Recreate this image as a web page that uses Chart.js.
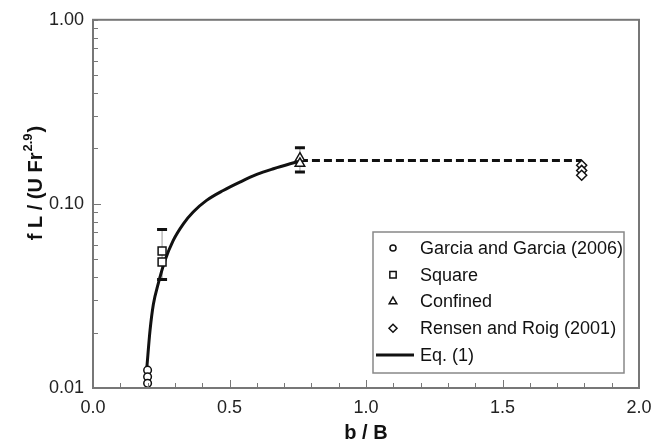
<!DOCTYPE html>
<html>
<head>
<meta charset="utf-8">
<script src="https://cdn.jsdelivr.net/npm/chart.js@4.4.1/dist/chart.umd.min.js"></script>
<style>
  body { margin: 0; background: #fff; }
  #wrap { width: 668px; height: 447px; }
</style>
</head>
<body>
<div id="wrap"><canvas id="chart"></canvas></div>
<script>
// measurements by series
const garciaX = [0.2, 0.2, 0.2];
const garciaY = [0.0125, 0.0115, 0.0106];
const squareX = [0.253, 0.253];
const squareY = [0.0555, 0.0484];
const confinedX = [0.758, 0.758];
const confinedY = [0.177, 0.166];
const rensenX = [1.79, 1.79, 1.79];
const rensenY = [0.162, 0.152, 0.143];

// Eq. (1)
const eqX = [0.197, 0.209, 0.221, 0.239, 0.264, 0.294, 0.331, 0.367, 0.416, 0.477, 0.538, 0.600, 0.661, 0.722, 0.758];
const eqY = [0.0128, 0.0206, 0.0284, 0.0369, 0.0494, 0.0634, 0.078, 0.0904, 0.1045, 0.1183, 0.1313, 0.1445, 0.1552, 0.1652, 0.1708];

// plateau beyond the confined case
const plateauX = [0.758, 1.79];
const plateauY = [0.172, 0.172];

// error bars
const errX = [0.253, 0.758];
const errLow = [0.0388, 0.149];
const errHigh = [0.0727, 0.202];

const yTicks = [0.01, 0.1, 1];
const FONT = "'Liberation Sans', Arial, sans-serif";

const pts = (xs, ys) => xs.map((x, i) => ({ x: x, y: ys[i] }));

const marker = {
  showLine: false,
  borderColor: '#111',
  backgroundColor: '#fff',
  borderWidth: 1.5,
  order: 0
};

const datasets = [
  Object.assign({ label: 'Garcia and Garcia (2006)', data: pts(garciaX, garciaY), pointStyle: 'circle', pointRadius: 3.8 }, marker),
  Object.assign({ label: 'Square', data: pts(squareX, squareY), pointStyle: 'rect', pointRadius: 5.6 }, marker),
  Object.assign({ label: 'Confined', data: pts(confinedX, confinedY), pointStyle: 'triangle', pointRadius: 5.5 }, marker),
  Object.assign({ label: 'Rensen and Roig (2001)', data: pts(rensenX, rensenY), pointStyle: 'rectRot', pointRadius: 5 }, marker),
  {
    label: 'Eq. (1)', data: pts(eqX, eqY), showLine: true, borderColor: '#111', borderWidth: 3,
    pointRadius: 0, cubicInterpolationMode: 'monotone', order: 2
  },
  {
    label: '', data: pts(plateauX, plateauY), showLine: true, borderColor: '#111', borderWidth: 3,
    borderDash: [8, 4], pointRadius: 0, order: 2
  }
];

const decor = {
  id: 'decor',
  beforeDatasetsDraw(chart) {
    const ctx = chart.ctx, xs = chart.scales.x, ys = chart.scales.y;
    ctx.save();
    for (let i = 0; i < errX.length; i++) {
      const px = xs.getPixelForValue(errX[i]);
      const top = ys.getPixelForValue(errHigh[i]);
      const bot = ys.getPixelForValue(errLow[i]);
      ctx.strokeStyle = '#999';
      ctx.lineWidth = 1;
      ctx.beginPath();
      ctx.moveTo(px, top);
      ctx.lineTo(px, bot);
      ctx.stroke();
      ctx.strokeStyle = '#111';
      ctx.lineWidth = 3;
      ctx.beginPath();
      ctx.moveTo(px - 5, top); ctx.lineTo(px + 5, top);
      ctx.moveTo(px - 5, bot); ctx.lineTo(px + 5, bot);
      ctx.stroke();
    }
    ctx.restore();
  },
  afterDraw(chart) {
    const ctx = chart.ctx, a = chart.chartArea, xs = chart.scales.x, ys = chart.scales.y;
    ctx.save();

    // frame and inward ticks
    ctx.strokeStyle = '#777';
    ctx.lineWidth = 2;
    ctx.strokeRect(a.left, a.top, a.right - a.left, a.bottom - a.top);
    ctx.lineWidth = 1;
    ctx.beginPath();
    for (let k = 1; k < 20; k++) {
      const px = Math.round(xs.getPixelForValue(k / 10)) + 0.5;
      const len = k % 5 === 0 ? 8 : 5;
      ctx.moveTo(px, a.bottom);
      ctx.lineTo(px, a.bottom - len);
    }
    [0.01, 0.1].forEach(d => {
      for (let k = 2; k <= 10; k++) {
        const py = Math.round(ys.getPixelForValue(k * d)) + 0.5;
        const len = k === 10 && d === 0.01 ? 8 : 5;
        ctx.moveTo(a.left, py);
        ctx.lineTo(a.left + len, py);
      }
    });
    ctx.stroke();

    // axis titles
    ctx.fillStyle = '#111';
    ctx.font = 'bold 20px ' + FONT;
    ctx.textAlign = 'center';
    ctx.textBaseline = 'alphabetic';
    ctx.fillText('b / B', (a.left + a.right) / 2, 439);

    ctx.save();
    ctx.translate(42, 184);
    ctx.rotate(-Math.PI / 2);
    ctx.textAlign = 'left';
    const main = 'f L / (U Fr', sup = '2.9', close = ')';
    ctx.font = 'bold 20px ' + FONT;
    const w1 = ctx.measureText(main).width, w3 = ctx.measureText(close).width;
    ctx.font = 'bold 13px ' + FONT;
    const w2 = ctx.measureText(sup).width;
    let x0 = -(w1 + w2 + w3) / 2;
    ctx.font = 'bold 20px ' + FONT;
    ctx.fillText(main, x0, 0);
    ctx.font = 'bold 13px ' + FONT;
    ctx.fillText(sup, x0 + w1 + 1, -10);
    ctx.font = 'bold 20px ' + FONT;
    ctx.fillText(close, x0 + w1 + w2 + 2, 0);
    ctx.restore();

    // legend
    const box = { l: 373, t: 232, r: 624, b: 373 };
    ctx.fillStyle = '#fff';
    ctx.fillRect(box.l, box.t, box.r - box.l, box.b - box.t);
    ctx.strokeStyle = '#888';
    ctx.lineWidth = 1.5;
    ctx.strokeRect(box.l, box.t, box.r - box.l, box.b - box.t);

    const items = chart.data.datasets.filter(d => d.label);
    items.forEach((d, i) => {
      const y = 248 + i * 26.75;
      if (d.showLine) {
        ctx.strokeStyle = '#111';
        ctx.lineWidth = 3;
        ctx.beginPath();
        ctx.moveTo(376, y);
        ctx.lineTo(414, y);
        ctx.stroke();
      } else {
        ctx.strokeStyle = '#111';
        ctx.fillStyle = '#fff';
        ctx.lineWidth = 1.5;
        Chart.helpers.drawPoint(ctx, { pointStyle: d.pointStyle, radius: d.pointRadius * 0.8, borderWidth: 1.5 }, 393, y);
      }
      ctx.fillStyle = '#111';
      ctx.font = '18px ' + FONT;
      ctx.textAlign = 'left';
      ctx.textBaseline = 'middle';
      ctx.fillText(d.label, 420, y + 1);
    });
    ctx.restore();
  }
};

new Chart(document.getElementById('chart'), {
  type: 'scatter',
  data: { datasets: datasets },
  plugins: [decor],
  options: {
    responsive: true,
    maintainAspectRatio: false,
    animation: false,
    layout: { padding: { top: 19, right: 29, left: 0, bottom: 0 } },
    plugins: { legend: { display: false }, tooltip: { enabled: false } },
    scales: {
      x: {
        type: 'linear', min: 0, max: 2,
        grid: { display: false, drawTicks: false },
        border: { display: false },
        ticks: { stepSize: 0.5, padding: 9, color: '#222', font: { family: FONT, size: 18 }, callback: v => v.toFixed(1) },
        afterFit(s) { s.height = 59; }
      },
      y: {
        type: 'logarithmic', min: 0.01, max: 1,
        grid: { display: false, drawTicks: false },
        border: { display: false },
        ticks: { padding: 9, color: '#222', font: { family: FONT, size: 18 }, callback: v => v.toFixed(2) },
        afterBuildTicks(s) { s.ticks = yTicks.map(v => ({ value: v })); },
        afterFit(s) { s.width = 93; }
      }
    }
  }
});
</script>
</body>
</html>
